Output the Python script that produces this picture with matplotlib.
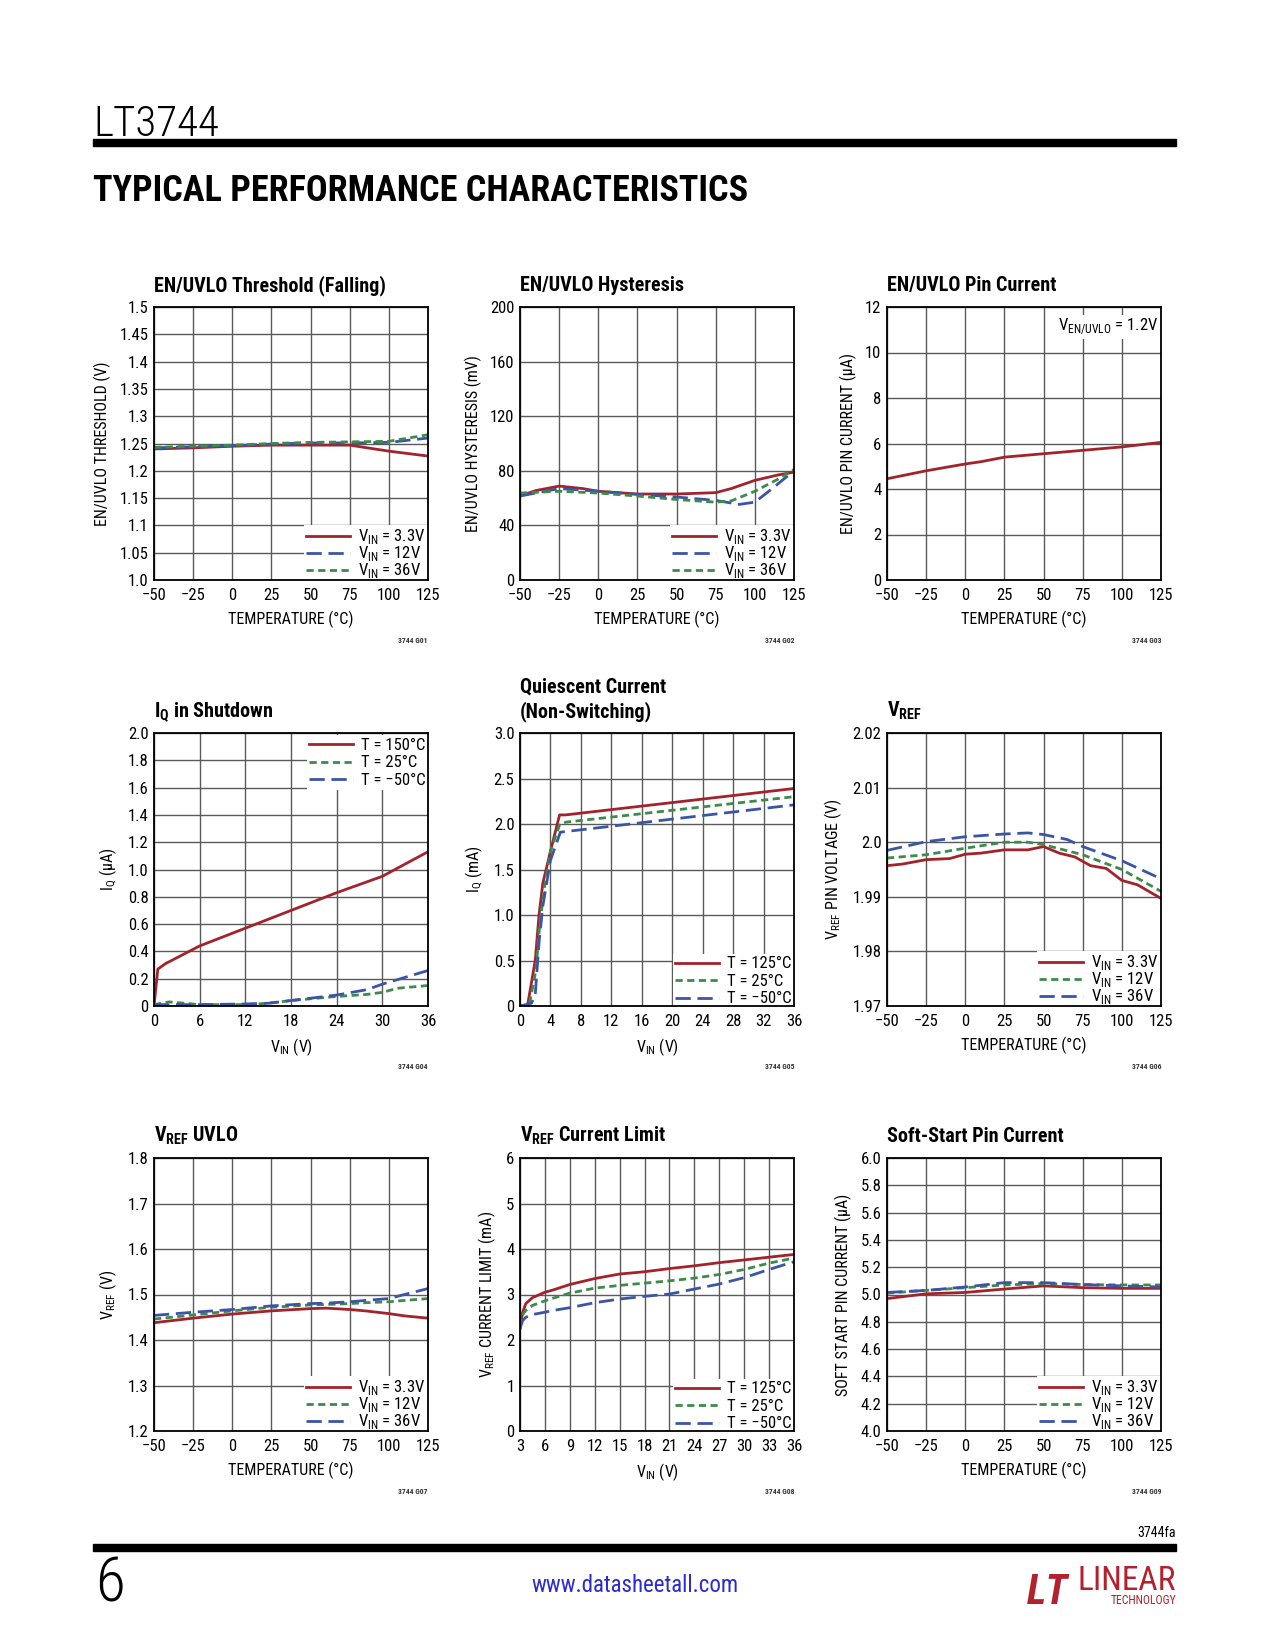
import matplotlib
matplotlib.use("Agg")
import matplotlib.pyplot as plt
from matplotlib import font_manager as fm
from matplotlib.patches import Rectangle

# the datasheet uses a condensed grotesque; take the narrowest one we have
_names = {f.name for f in fm.fontManager.ttflist}
FONT = None
STRETCH = "normal"
for cand in ["Liberation Sans Narrow", "Roboto Condensed", "Open Sans Condensed",
             "Noto Sans Condensed", "DejaVu Sans Condensed", "Arial Narrow"]:
    if cand in _names:
        FONT = cand
        break
if FONT is None:
    cond = [f for f in fm.fontManager.ttflist
            if f.name == "DejaVu Sans" and str(f.stretch).lower() in ("condensed", "semi-condensed")]
    if cond:
        FONT = "DejaVu Sans"
        STRETCH = "condensed"
    elif "Roboto" in _names:
        FONT = "Roboto"
    else:
        FONT = "Liberation Sans"

plt.rcParams['font.family'] = [FONT, 'DejaVu Sans']
plt.rcParams['font.stretch'] = STRETCH
plt.rcParams['mathtext.fontset'] = 'custom'
plt.rcParams['mathtext.rm'] = FONT
plt.rcParams['mathtext.bf'] = FONT + ':bold'

RED = "#a3232c"
BLUE = "#3b55a6"
GREEN = "#3d8b4b"
GRID = "#5a5a5a"

# ---- data ----
temp_ticks = [-50, -25, 0, 25, 50, 75, 100, 125]
temp_labels = ["\u221250", "\u221225", "0", "25", "50", "75", "100", "125"]

# G01 EN/UVLO threshold (falling)
g01_t = [-50, -25, 0, 25, 50, 75, 100, 125]
g01_33 = [1.240, 1.242, 1.245, 1.247, 1.247, 1.247, 1.236, 1.227]
g01_12 = [1.242, 1.244, 1.246, 1.249, 1.251, 1.251, 1.252, 1.260]
g01_36 = [1.243, 1.245, 1.247, 1.250, 1.252, 1.253, 1.254, 1.266]
g01_yticks = [1.0, 1.05, 1.1, 1.15, 1.2, 1.25, 1.3, 1.35, 1.4, 1.45, 1.5]
g01_ylabels = ["1.0", "1.05", "1.1", "1.15", "1.2", "1.25", "1.3", "1.35", "1.4", "1.45", "1.5"]

# G02 EN/UVLO hysteresis
g02_t_33 = [-50, -40, -25, -10, 0, 25, 50, 75, 85, 100, 115, 125]
g02_33 = [61.5, 65.5, 68.8, 67.0, 65.0, 63.0, 63.0, 64.0, 67.0, 73.0, 77.0, 79.0]
g02_t_12 = [-50, -25, 0, 25, 50, 75, 90, 100, 110, 125]
g02_12 = [61.5, 67.0, 65.0, 62.7, 60.8, 58.3, 55.4, 57.0, 66.0, 80.0]
g02_t_36 = [-50, -25, 0, 25, 50, 75, 85, 100, 115, 125]
g02_36 = [63.7, 65.0, 63.7, 61.5, 59.0, 57.0, 58.0, 65.0, 74.0, 81.0]
g02_yticks = [0, 40, 80, 120, 160, 200]

# G03 EN/UVLO pin current
g03_t = [-50, -25, 0, 10, 25, 50, 75, 100, 125]
g03_i = [4.45, 4.8, 5.1, 5.2, 5.4, 5.55, 5.7, 5.85, 6.05]
g03_yticks = [0, 2, 4, 6, 8, 10, 12]

# G04 IQ in shutdown
g04_v_150 = [0, 0.5, 1.5, 6, 12, 18, 24, 30, 33, 36]
g04_150 = [0.0, 0.27, 0.31, 0.44, 0.57, 0.70, 0.83, 0.95, 1.04, 1.13]
g04_v_25 = [0, 2, 6, 12, 15, 18, 24, 28, 30, 32, 36]
g04_25 = [0.01, 0.03, 0.01, 0.01, 0.02, 0.04, 0.07, 0.085, 0.10, 0.13, 0.15]
g04_v_m50 = [0, 6, 12, 15, 18, 24, 28, 30, 33, 36]
g04_m50 = [0.01, 0.01, 0.015, 0.02, 0.04, 0.08, 0.12, 0.16, 0.21, 0.26]
g04_xticks = [0, 6, 12, 18, 24, 30, 36]
g04_yticks = [0, 0.2, 0.4, 0.6, 0.8, 1.0, 1.2, 1.4, 1.6, 1.8, 2.0]
g04_ylabels = ["0", "0.2", "0.4", "0.6", "0.8", "1.0", "1.2", "1.4", "1.6", "1.8", "2.0"]

# G05 quiescent current (non-switching)
g05_v_125 = [0, 1.0, 2.0, 2.5, 3.0, 4.0, 5.2, 6.0, 36]
g05_125 = [0.0, 0.01, 0.5, 1.0, 1.35, 1.7, 2.1, 2.1, 2.39]
g05_v_25 = [0, 1.2, 2.1, 2.6, 3.2, 4.0, 5.2, 6.0, 36]
g05_25 = [0.0, 0.0, 0.4, 0.9, 1.3, 1.7, 1.99, 2.02, 2.30]
g05_v_m50 = [0, 1.0, 1.5, 2.0, 2.5, 3.0, 4.0, 5.3, 36]
g05_m50 = [0.0, 0.02, 0.03, 0.12, 0.7, 1.1, 1.6, 1.91, 2.21]
g05_xticks = [0, 4, 8, 12, 16, 20, 24, 28, 32, 36]
g05_yticks = [0, 0.5, 1.0, 1.5, 2.0, 2.5, 3.0]
g05_ylabels = ["0", "0.5", "1.0", "1.5", "2.0", "2.5", "3.0"]

# G06 VREF
g06_t_33 = [-50, -40, -25, -10, 0, 10, 25, 40, 50, 60, 70, 80, 90, 100, 110, 125]
g06_33 = [1.9957, 1.9960, 1.9968, 1.9970, 1.9978, 1.9980, 1.9986, 1.9986, 1.9992,
          1.9980, 1.9973, 1.9957, 1.9952, 1.9930, 1.9922, 1.9897]
g06_t_12 = [-50, -25, 0, 25, 40, 50, 75, 100, 125]
g06_12 = [1.9971, 1.9977, 1.9989, 2.0000, 2.0000, 1.99955, 1.9977, 1.9950, 1.9910]
g06_t_36 = [-50, -25, 0, 25, 40, 50, 65, 75, 100, 125]
g06_36 = [1.9985, 2.0001, 2.0010, 2.0015, 2.0017, 2.0014, 2.0005, 1.9992, 1.9966, 1.9933]
g06_yticks = [1.97, 1.98, 1.99, 2.0, 2.01, 2.02]
g06_ylabels = ["1.97", "1.98", "1.99", "2.0", "2.01", "2.02"]

# G07 VREF UVLO
g07_t = [-50, -25, 0, 25, 50, 60, 75, 85, 100, 110, 125]
g07_33 = [1.438, 1.448, 1.457, 1.464, 1.469, 1.470, 1.467, 1.464, 1.458, 1.453, 1.448]
g07_12 = [1.446, 1.455, 1.464, 1.472, 1.477, 1.478, 1.480, 1.482, 1.484, 1.487, 1.491]
g07_36 = [1.454, 1.461, 1.467, 1.475, 1.480, 1.481, 1.484, 1.487, 1.491, 1.500, 1.513]
g07_yticks = [1.2, 1.3, 1.4, 1.5, 1.6, 1.7, 1.8]

# G08 VREF current limit
g08_v = [3.0, 3.3, 3.7, 4.5, 6, 7, 9, 12, 15, 18, 21, 24, 27, 30, 33, 36]
g08_125 = [2.25, 2.6, 2.8, 2.93, 3.05, 3.1, 3.22, 3.35, 3.45, 3.5, 3.57, 3.63, 3.70, 3.76, 3.82, 3.88]
g08_25 = [2.3, 2.55, 2.65, 2.76, 2.86, 2.92, 3.03, 3.14, 3.20, 3.25, 3.30, 3.36, 3.44, 3.55, 3.69, 3.80]
g08_m50 = [2.25, 2.42, 2.5, 2.56, 2.61, 2.65, 2.71, 2.82, 2.90, 2.96, 3.01, 3.12, 3.23, 3.37, 3.55, 3.72]
g08_xticks = [3, 6, 9, 12, 15, 18, 21, 24, 27, 30, 33, 36]
g08_yticks = [0, 1, 2, 3, 4, 5, 6]

# G09 soft-start pin current
g09_t = [-50, -25, 0, 25, 50, 75, 100, 125]
g09_33 = [4.97, 5.005, 5.015, 5.04, 5.063, 5.05, 5.045, 5.045]
g09_12 = [5.01, 5.03, 5.05, 5.07, 5.08, 5.073, 5.07, 5.07]
g09_36 = [5.015, 5.03, 5.055, 5.087, 5.087, 5.073, 5.063, 5.055]
g09_yticks = [4.0, 4.2, 4.4, 4.6, 4.8, 5.0, 5.2, 5.4, 5.6, 5.8, 6.0]
g09_ylabels = ["4.0", "4.2", "4.4", "4.6", "4.8", "5.0", "5.2", "5.4", "5.6", "5.8", "6.0"]

vin_labels = [r"V$_{\mathrm{IN}}$ = 3.3V", r"V$_{\mathrm{IN}}$ = 12V", r"V$_{\mathrm{IN}}$ = 36V"]
temp_legend_125 = ["T = 125\u00b0C", "T = 25\u00b0C", "T = \u221250\u00b0C"]
temp_legend_150 = ["T = 150\u00b0C", "T = 25\u00b0C", "T = \u221250\u00b0C"]

W, H = 1275, 1650
fig = plt.figure(figsize=(W / 100, H / 100), dpi=100)

col_left = [154, 520, 887]
row_top = [307, 733, 1158]
AX_W, AX_H = 274, 273

SOLID = dict(color=RED, lw=2.0, ls="-")
SHORT = dict(color=GREEN, lw=2.0, ls=(0, (2.6, 1.6)))
LONG = dict(color=BLUE, lw=2.0, ls=(0, (5.5, 2.4)))


def fx(x):
    return x / W


def fy(y):
    return 1 - y / H


def make_axes(row, col, xticks, xlabels, yticks, ylabels, xlabel, ylabel):
    l, t = col_left[col], row_top[row]
    ax = fig.add_axes([fx(l), fy(t + AX_H), AX_W / W, AX_H / H])
    ax.set_xlim(xticks[0], xticks[-1])
    ax.set_ylim(yticks[0], yticks[-1])
    ax.set_xticks(xticks)
    ax.set_xticklabels(xlabels)
    ax.set_yticks(yticks)
    ax.set_yticklabels(ylabels)
    ax.tick_params(axis="x", length=0, labelsize=12, pad=6)
    ax.tick_params(axis="y", length=0, labelsize=12, pad=4)
    ax.grid(True, color=GRID, lw=1.0)
    ax.set_axisbelow(True)
    for s in ax.spines.values():
        s.set_linewidth(1.3)
        s.set_color("black")
        s.set_zorder(6)
    ax.set_xlabel(xlabel, fontsize=11.5, labelpad=5)
    ax.set_ylabel(ylabel, fontsize=11.5, labelpad=6)
    return ax


def title(ax, text, lines_up=0):
    ax.text(0, 1 + 16 / AX_H + lines_up * 24 / AX_H, text, transform=ax.transAxes,
            ha="left", va="baseline", fontsize=14.5, fontweight="bold")


def code(ax, text):
    ax.text(1, -63 / AX_H, text, transform=ax.transAxes, ha="right", va="baseline",
            fontsize=5.5, fontweight="bold", color="#333333")


def legend(ax, loc="lower right", spacing=-0.12):
    anchor = (1.003, -0.014) if loc == "lower right" else (1.003, 0.994)
    lg = ax.legend(loc=loc, bbox_to_anchor=anchor, fontsize=12, frameon=True,
                   fancybox=False, framealpha=1, edgecolor="none", borderaxespad=0.05,
                   borderpad=0.15, handlelength=2.6, handletextpad=0.5,
                   labelspacing=spacing)
    lg.get_frame().set_linewidth(0)


temp_xlabel = "TEMPERATURE (\u00b0C)"
vin_xlabel = r"V$_{\mathrm{IN}}$ (V)"

# G01
ax = make_axes(0, 0, temp_ticks, temp_labels, g01_yticks, g01_ylabels, temp_xlabel,
               "EN/UVLO THRESHOLD (V)")
ax.plot(g01_t, g01_33, label=vin_labels[0], **SOLID)
ax.plot(g01_t, g01_12, label=vin_labels[1], **LONG)
ax.plot(g01_t, g01_36, label=vin_labels[2], **SHORT)
legend(ax)
title(ax, "EN/UVLO Threshold (Falling)")
code(ax, "3744 G01")

# G02
ax = make_axes(0, 1, temp_ticks, temp_labels, g02_yticks, [str(v) for v in g02_yticks],
               temp_xlabel, "EN/UVLO HYSTERESIS (mV)")
ax.plot(g02_t_33, g02_33, label=vin_labels[0], **SOLID)
ax.plot(g02_t_12, g02_12, label=vin_labels[1], **LONG)
ax.plot(g02_t_36, g02_36, label=vin_labels[2], **SHORT)
legend(ax)
title(ax, "EN/UVLO Hysteresis")
code(ax, "3744 G02")

# G03
ax = make_axes(0, 2, temp_ticks, temp_labels, g03_yticks, [str(v) for v in g03_yticks],
               temp_xlabel, "EN/UVLO PIN CURRENT (\u00b5A)")
ax.plot(g03_t, g03_i, **SOLID)
ax.text(0.99, 0.965, r"V$_{\mathrm{EN/UVLO}}$ = 1.2V", transform=ax.transAxes,
        ha="right", va="top", fontsize=12,
        bbox=dict(facecolor="white", edgecolor="none", pad=1.5))
title(ax, "EN/UVLO Pin Current")
code(ax, "3744 G03")

# G04
ax = make_axes(1, 0, g04_xticks, [str(v) for v in g04_xticks], g04_yticks, g04_ylabels,
               vin_xlabel, "I$_{\\mathrm{Q}}$ (\u00b5A)")
ax.plot(g04_v_150, g04_150, label=temp_legend_150[0], **SOLID)
ax.plot(g04_v_25, g04_25, label=temp_legend_150[1], **SHORT)
ax.plot(g04_v_m50, g04_m50, label=temp_legend_150[2], **LONG)
legend(ax, "upper right", spacing=0.15)
title(ax, r"I$_{\mathbf{Q}}$ in Shutdown")
code(ax, "3744 G04")

# G05
ax = make_axes(1, 1, g05_xticks, [str(v) for v in g05_xticks], g05_yticks, g05_ylabels,
               vin_xlabel, r"I$_{\mathrm{Q}}$ (mA)")
ax.plot(g05_v_125, g05_125, label=temp_legend_125[0], **SOLID)
ax.plot(g05_v_25, g05_25, label=temp_legend_125[1], **SHORT)
ax.plot(g05_v_m50, g05_m50, label=temp_legend_125[2], **LONG)
legend(ax, spacing=0.15)
title(ax, "Quiescent Current", lines_up=1)
title(ax, "(Non-Switching)")
code(ax, "3744 G05")

# G06
ax = make_axes(1, 2, temp_ticks, temp_labels, g06_yticks, g06_ylabels, temp_xlabel,
               r"V$_{\mathrm{REF}}$ PIN VOLTAGE (V)")
ax.plot(g06_t_33, g06_33, label=vin_labels[0], **SOLID)
ax.plot(g06_t_12, g06_12, label=vin_labels[1], **SHORT)
ax.plot(g06_t_36, g06_36, label=vin_labels[2], **LONG)
legend(ax)
title(ax, r"V$_{\mathbf{REF}}$")
code(ax, "3744 G06")

# G07
ax = make_axes(2, 0, temp_ticks, temp_labels, g07_yticks, [f"{v:.1f}" for v in g07_yticks],
               temp_xlabel, r"V$_{\mathrm{REF}}$ (V)")
ax.plot(g07_t, g07_33, label=vin_labels[0], **SOLID)
ax.plot(g07_t, g07_12, label=vin_labels[1], **SHORT)
ax.plot(g07_t, g07_36, label=vin_labels[2], **LONG)
legend(ax)
title(ax, r"V$_{\mathbf{REF}}$ UVLO")
code(ax, "3744 G07")

# G08
ax = make_axes(2, 1, g08_xticks, [str(v) for v in g08_xticks], g08_yticks,
               [str(v) for v in g08_yticks], vin_xlabel, r"V$_{\mathrm{REF}}$ CURRENT LIMIT (mA)")
ax.plot(g08_v, g08_125, label=temp_legend_125[0], **SOLID)
ax.plot(g08_v, g08_25, label=temp_legend_125[1], **SHORT)
ax.plot(g08_v, g08_m50, label=temp_legend_125[2], **LONG)
legend(ax, spacing=0.15)
title(ax, r"V$_{\mathbf{REF}}$ Current Limit")
code(ax, "3744 G08")

# G09
ax = make_axes(2, 2, temp_ticks, temp_labels, g09_yticks, g09_ylabels, temp_xlabel,
               "SOFT START PIN CURRENT (\u00b5A)")
ax.plot(g09_t, g09_33, label=vin_labels[0], **SOLID)
ax.plot(g09_t, g09_12, label=vin_labels[1], **SHORT)
ax.plot(g09_t, g09_36, label=vin_labels[2], **LONG)
legend(ax)
title(ax, "Soft-Start Pin Current")
code(ax, "3744 G09")

# ---- page furniture ----
fig.text(fx(93), fy(136), "LT3744", fontsize=31, fontweight="light", ha="left",
         va="baseline")
fig.patches.append(Rectangle((fx(93), fy(146)), fx(1176) - fx(93), 7 / H,
                             transform=fig.transFigure, color="black"))
fig.text(fx(93), fy(201), "TYPICAL PERFORMANCE CHARACTERISTICS", fontsize=26,
         fontweight="heavy", ha="left", va="baseline")

fig.text(fx(1176), fy(1537), "3744fa", fontsize=10, ha="right", va="baseline")
fig.patches.append(Rectangle((fx(93), fy(1551)), fx(1176) - fx(93), 7 / H,
                             transform=fig.transFigure, color="black"))
fig.text(fx(95), fy(1601), "6", fontsize=44, fontweight="light", ha="left",
         va="baseline")
fig.text(fx(635), fy(1592), "www.datasheetall.com", fontsize=16.5, color="#2b2bd0",
         ha="center", va="baseline")
fig.text(fx(1048), fy(1604), "LT", fontsize=30, fontweight="bold", style="italic",
         color="#b3202e", ha="center", va="baseline")
fig.text(fx(1176), fy(1590), "LINEAR", fontsize=24, color="#b3202e", ha="right",
         va="baseline")
fig.text(fx(1176), fy(1604), "TECHNOLOGY", fontsize=8.5, color="#b3202e", ha="right",
         va="baseline")

fig.savefig("out.png", dpi=100)
